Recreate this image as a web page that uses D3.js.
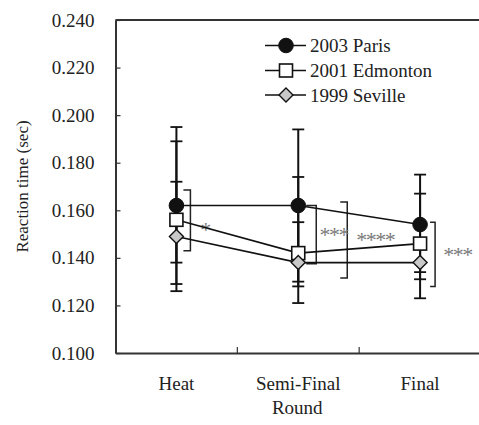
<!DOCTYPE html>
<html>
<head>
<meta charset="utf-8">
<script src="https://cdn.jsdelivr.net/npm/d3@7"></script>
</head>
<body style="margin:0">
<div id="target"></div>
<script>
const width = 479;
const height = 425;
const fontName = 'Liberation Serif';

const rounds = ['Heat', 'Semi-Final', 'Final'];
const yTicks = [0.1, 0.12, 0.14, 0.16, 0.18, 0.2, 0.22, 0.24];

// mean, upper and lower end of each error bar
const parisMean = [0.162, 0.162, 0.154];
const parisHi = [0.195, 0.194, 0.175];
const parisLo = [0.129, 0.130, 0.134];

const edmontonMean = [0.156, 0.142, 0.146];
const edmontonHi = [0.189, 0.174, 0.167];
const edmontonLo = [0.126, 0.128, 0.123];

const sevilleMean = [0.149, 0.138, 0.138];
const sevilleHi = [0.172, 0.155, 0.145];
const sevilleLo = [0.138, 0.121, 0.131];

// significance brackets: round, x offset from the round centre, arm length, top, bottom
const brackets = [
  { round: 0, dx: 14, arm: 7, top: 0.1685, bottom: 0.143 },
  { round: 1, dx: 18, arm: 10, top: 0.162, bottom: 0.1375 },
  { round: 1, dx: 49, arm: 7, top: 0.1635, bottom: 0.1315 },
  { round: 2, dx: 15, arm: 5, top: 0.155, bottom: 0.128 },
];
const starLabels = [
  { round: 0, dx: 28.5, v: 0.1538, label: '*' },
  { round: 1, dx: 35.5, v: 0.1514, label: '***' },
  { round: 1, dx: 77, v: 0.1496, label: '****' },
  { round: 2, dx: 37.5, v: 0.1433, label: '***' },
];

const series = [
  { name: '2003 Paris', mean: parisMean, hi: parisHi, lo: parisLo, shape: 'circle' },
  { name: '2001 Edmonton', mean: edmontonMean, hi: edmontonHi, lo: edmontonLo, shape: 'square' },
  { name: '1999 Seville', mean: sevilleMean, hi: sevilleHi, lo: sevilleLo, shape: 'diamond' },
];

const margin = { top: 20, left: 115.5, right: -2, bottom: 72 };

const x = d3.scaleBand().domain(rounds).range([margin.left, width - margin.right]);
const y = d3.scaleLinear().domain([0.1, 0.24]).range([height - margin.bottom, margin.top]);

const svg = d3.select('#target').append('svg')
  .attr('width', width).attr('height', height);

const cx = (i) => x(rounds[i]) + x.bandwidth() / 2;

// frame: top line
svg.append('line')
  .attr('x1', margin.left).attr('x2', width)
  .attr('y1', y(0.24)).attr('y2', y(0.24))
  .attr('stroke', '#333').attr('stroke-width', 2);

// y axis
const yAxis = svg.append('g')
  .attr('transform', `translate(${margin.left},0)`)
  .call(d3.axisLeft(y).tickValues(yTicks).tickFormat(d3.format('.3f')).tickSizeInner(-5).tickSizeOuter(0).tickPadding(21));
yAxis.select('.domain').attr('stroke', '#333').attr('stroke-width', 2);
yAxis.selectAll('.tick line').attr('stroke', '#333').attr('stroke-width', 1.2);

// x axis
const xAxis = svg.append('g')
  .attr('transform', `translate(0,${y(0.1)})`)
  .call(d3.axisBottom(x).tickSize(0).tickPadding(24));
xAxis.select('.domain').attr('stroke', '#333').attr('stroke-width', 2);

// category separators pointing up
svg.selectAll('.sep')
  .data(rounds.slice(1))
  .enter()
  .append('line')
  .attr('class', 'sep')
  .attr('x1', (d) => x(d)).attr('x2', (d) => x(d))
  .attr('y1', y(0.1)).attr('y2', y(0.1) - 6)
  .attr('stroke', '#333').attr('stroke-width', 1.2);

// axis titles
svg.append('text')
  .attr('transform', `translate(28,${(y(0.1) + y(0.24)) / 2}) rotate(-90)`)
  .attr('text-anchor', 'middle')
  .attr('font-size', 17)
  .text('Reaction time (sec)');

svg.append('text')
  .attr('x', (margin.left + width) / 2)
  .attr('y', 414)
  .attr('text-anchor', 'middle')
  .attr('font-size', 19)
  .text('Round');

// significance brackets
svg.selectAll('.bracket')
  .data(brackets)
  .enter()
  .append('path')
  .attr('class', 'bracket')
  .attr('d', (b) => {
    const bx = cx(b.round) + b.dx;
    return `M${bx - b.arm},${y(b.top)}H${bx}V${y(b.bottom)}H${bx - b.arm}`;
  })
  .attr('fill', 'none').attr('stroke', '#222').attr('stroke-width', 1.5);

svg.selectAll('.stars')
  .data(starLabels)
  .enter()
  .append('text')
  .attr('class', 'stars')
  .attr('x', (d) => cx(d.round) + d.dx)
  .attr('y', (d) => y(d.v) + 11.5)
  .attr('text-anchor', 'middle')
  .attr('font-size', 22)
  .attr('letter-spacing', -1.5)
  .text((d) => d.label);

// error bars
series.forEach((s) => {
  const g = svg.append('g');
  s.mean.forEach((m, i) => {
    g.append('line')
      .attr('x1', cx(i)).attr('x2', cx(i))
      .attr('y1', y(s.hi[i])).attr('y2', y(s.lo[i]))
      .attr('stroke', '#111').attr('stroke-width', 2);
    [s.hi[i], s.lo[i]].forEach((v) => {
      g.append('line')
        .attr('x1', cx(i) - 6).attr('x2', cx(i) + 6)
        .attr('y1', y(v)).attr('y2', y(v))
        .attr('stroke', '#111').attr('stroke-width', 1.8);
    });
  });
});

// lines
const line = d3.line().x((d, i) => cx(i)).y((d) => y(d));
series.forEach((s) => {
  svg.append('path')
    .attr('d', line(s.mean))
    .attr('fill', 'none').attr('stroke', '#111').attr('stroke-width', 1.6);
});

function marker(g, shape, px, py) {
  if (shape === 'circle') {
    g.append('circle').attr('cx', px).attr('cy', py).attr('r', 7.3)
      .attr('fill', '#111').attr('stroke', '#111');
  } else if (shape === 'square') {
    g.append('rect').attr('x', px - 6.5).attr('y', py - 6.5).attr('width', 13).attr('height', 13)
      .attr('fill', '#fff').attr('stroke', '#111').attr('stroke-width', 1.6);
  } else {
    g.append('path').attr('d', `M${px},${py - 7}L${px + 7},${py}L${px},${py + 7}L${px - 7},${py}Z`)
      .attr('fill', '#c8c8c8').attr('stroke', '#111').attr('stroke-width', 1.4);
  }
}

series.forEach((s) => {
  const g = svg.append('g');
  s.mean.forEach((m, i) => marker(g, s.shape, cx(i), y(m)));
});

// legend
const legendRows = [45.5, 70.5, 95];
series.forEach((s, i) => {
  const ly = legendRows[i];
  const g = svg.append('g');
  g.append('line').attr('x1', 265).attr('x2', 306).attr('y1', ly).attr('y2', ly)
    .attr('stroke', '#111').attr('stroke-width', 1.6);
  marker(g, s.shape, 286, ly);
  g.append('text').attr('x', 310).attr('y', ly + 6.5)
    .attr('font-size', 19).text(s.name);
});

// every text gets the serif face and colour directly
svg.selectAll('text')
  .attr('font-family', fontName)
  .attr('font-size', function () { return this.getAttribute('font-size') || 19; })
  .attr('fill', function () { return this.classList.contains('stars') ? '#7a7a7a' : '#222'; });
</script>
</body>
</html>
